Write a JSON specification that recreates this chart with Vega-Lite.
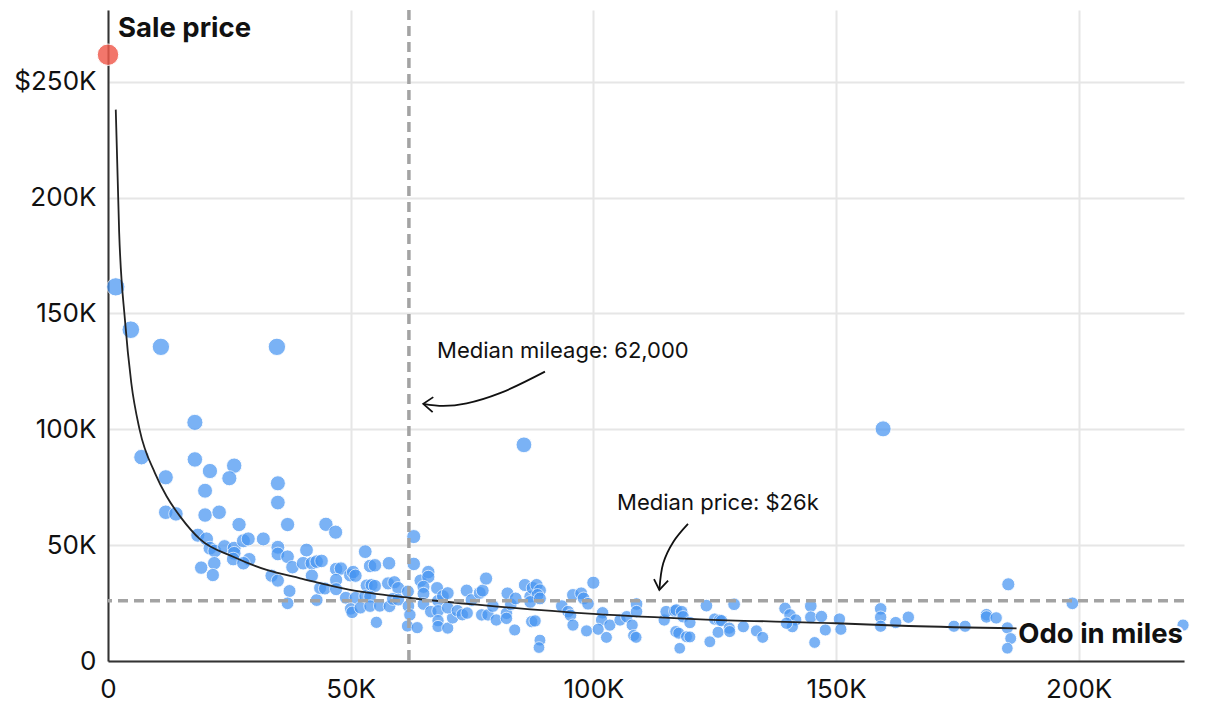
{
  "$schema": "https://vega.github.io/schema/vega-lite/v6.json",
  "width": 1076,
  "height": 651,
  "autosize": {"type": "none"},
  "padding": {"left": 108, "top": 10, "right": 36, "bottom": 59},
  "background": "white",
  "config": {"view": {"stroke": null}, "font": "Inter"},
  "datasets": {
    "cars": [
      {"odo": 0, "price": 261700},
      {"odo": 1600, "price": 161500},
      {"odo": 4700, "price": 143000},
      {"odo": 10900, "price": 135600},
      {"odo": 34800, "price": 135600},
      {"odo": 17900, "price": 103000},
      {"odo": 6900, "price": 88000},
      {"odo": 17900, "price": 87000},
      {"odo": 21000, "price": 82000},
      {"odo": 26000, "price": 84300},
      {"odo": 25000, "price": 78900},
      {"odo": 11900, "price": 79300},
      {"odo": 20000, "price": 73500},
      {"odo": 35000, "price": 76700},
      {"odo": 35000, "price": 68400},
      {"odo": 85700, "price": 93300},
      {"odo": 159700, "price": 100200},
      {"odo": 11900, "price": 64200},
      {"odo": 14000, "price": 63500},
      {"odo": 20000, "price": 63000},
      {"odo": 22900, "price": 64200},
      {"odo": 27000, "price": 58900},
      {"odo": 37000, "price": 58900},
      {"odo": 18500, "price": 54300},
      {"odo": 20300, "price": 52700},
      {"odo": 21000, "price": 48700},
      {"odo": 22000, "price": 47500},
      {"odo": 24000, "price": 49400},
      {"odo": 26000, "price": 48700},
      {"odo": 26000, "price": 46500},
      {"odo": 25800, "price": 44000},
      {"odo": 27900, "price": 51900},
      {"odo": 28900, "price": 52700},
      {"odo": 32000, "price": 52700},
      {"odo": 35000, "price": 49100},
      {"odo": 35000, "price": 46200},
      {"odo": 29100, "price": 43900},
      {"odo": 27900, "price": 42200},
      {"odo": 21900, "price": 42200},
      {"odo": 19200, "price": 40300},
      {"odo": 21600, "price": 37100},
      {"odo": 37000, "price": 45000},
      {"odo": 38000, "price": 40500},
      {"odo": 40900, "price": 47900},
      {"odo": 40200, "price": 42200},
      {"odo": 42000, "price": 42200},
      {"odo": 43000, "price": 42900},
      {"odo": 42000, "price": 36800},
      {"odo": 33700, "price": 36800},
      {"odo": 35000, "price": 34700},
      {"odo": 37400, "price": 30200},
      {"odo": 37000, "price": 24900},
      {"odo": 43000, "price": 26300},
      {"odo": 44900, "price": 59000},
      {"odo": 46900, "price": 55600},
      {"odo": 44000, "price": 43200},
      {"odo": 43700, "price": 31500},
      {"odo": 44700, "price": 31300},
      {"odo": 47000, "price": 39700},
      {"odo": 48000, "price": 39900},
      {"odo": 47000, "price": 35000},
      {"odo": 49900, "price": 37000},
      {"odo": 50500, "price": 38400},
      {"odo": 51000, "price": 36800},
      {"odo": 47000, "price": 31000},
      {"odo": 49000, "price": 27300},
      {"odo": 51000, "price": 27300},
      {"odo": 50000, "price": 22500},
      {"odo": 50300, "price": 21000},
      {"odo": 52000, "price": 23000},
      {"odo": 53000, "price": 47200},
      {"odo": 54000, "price": 41000},
      {"odo": 55000, "price": 41300},
      {"odo": 53300, "price": 32600},
      {"odo": 54300, "price": 32800},
      {"odo": 55000, "price": 32400},
      {"odo": 53000, "price": 28000},
      {"odo": 54000, "price": 27800},
      {"odo": 54000, "price": 23700},
      {"odo": 56000, "price": 23800},
      {"odo": 58000, "price": 23600},
      {"odo": 55300, "price": 16700},
      {"odo": 57900, "price": 42200},
      {"odo": 57700, "price": 33500},
      {"odo": 59000, "price": 34000},
      {"odo": 59800, "price": 31500},
      {"odo": 58700, "price": 26800},
      {"odo": 59800, "price": 26500},
      {"odo": 61800, "price": 30000},
      {"odo": 61900, "price": 23700},
      {"odo": 62200, "price": 19900},
      {"odo": 61700, "price": 15100},
      {"odo": 63700, "price": 14400},
      {"odo": 63000, "price": 53700},
      {"odo": 63000, "price": 41900},
      {"odo": 64400, "price": 34700},
      {"odo": 66000, "price": 38400},
      {"odo": 66000, "price": 36300},
      {"odo": 65000, "price": 32000},
      {"odo": 65000, "price": 29000},
      {"odo": 65000, "price": 24600},
      {"odo": 66500, "price": 21300},
      {"odo": 67800, "price": 31500},
      {"odo": 68000, "price": 26000},
      {"odo": 68000, "price": 21600},
      {"odo": 68000, "price": 17400},
      {"odo": 68000, "price": 14900},
      {"odo": 70000, "price": 14200},
      {"odo": 71000, "price": 18600},
      {"odo": 69000, "price": 28000},
      {"odo": 70000, "price": 29300},
      {"odo": 70000, "price": 23000},
      {"odo": 72000, "price": 21700},
      {"odo": 73000, "price": 20000},
      {"odo": 74000, "price": 20700},
      {"odo": 73900, "price": 30400},
      {"odo": 74900, "price": 26300},
      {"odo": 76600, "price": 29400},
      {"odo": 77200, "price": 30400},
      {"odo": 77900, "price": 35600},
      {"odo": 77000, "price": 19900},
      {"odo": 78300, "price": 19900},
      {"odo": 80000, "price": 17700},
      {"odo": 79300, "price": 23700},
      {"odo": 82300, "price": 29200},
      {"odo": 82100, "price": 20600},
      {"odo": 82100, "price": 18400},
      {"odo": 83000, "price": 24500},
      {"odo": 83800, "price": 13400},
      {"odo": 84000, "price": 27000},
      {"odo": 85900, "price": 32800},
      {"odo": 87000, "price": 27800},
      {"odo": 87500, "price": 31500},
      {"odo": 88300, "price": 32800},
      {"odo": 89000, "price": 30500},
      {"odo": 88500, "price": 28500},
      {"odo": 87000, "price": 25500},
      {"odo": 89000, "price": 27000},
      {"odo": 87300, "price": 17000},
      {"odo": 88000, "price": 17300},
      {"odo": 89000, "price": 9000},
      {"odo": 88800, "price": 5800},
      {"odo": 93500, "price": 23700},
      {"odo": 94800, "price": 21300},
      {"odo": 95300, "price": 19700},
      {"odo": 95800, "price": 15500},
      {"odo": 95800, "price": 28500},
      {"odo": 97500, "price": 29200},
      {"odo": 98000, "price": 27000},
      {"odo": 98900, "price": 24700},
      {"odo": 98600, "price": 13000},
      {"odo": 100000, "price": 33800},
      {"odo": 101900, "price": 20800},
      {"odo": 101700, "price": 17700},
      {"odo": 101000, "price": 13700},
      {"odo": 102700, "price": 10200},
      {"odo": 103400, "price": 15500},
      {"odo": 105500, "price": 17700},
      {"odo": 106900, "price": 19100},
      {"odo": 108900, "price": 24600},
      {"odo": 108900, "price": 21300},
      {"odo": 108000, "price": 15500},
      {"odo": 108300, "price": 11000},
      {"odo": 108800, "price": 10200},
      {"odo": 114600, "price": 17700},
      {"odo": 115000, "price": 21300},
      {"odo": 116800, "price": 21600},
      {"odo": 117100, "price": 22000},
      {"odo": 118200, "price": 21300},
      {"odo": 118500, "price": 19100},
      {"odo": 119900, "price": 16600},
      {"odo": 117000, "price": 12700},
      {"odo": 117600, "price": 12000},
      {"odo": 119200, "price": 10500},
      {"odo": 117800, "price": 5500},
      {"odo": 119900, "price": 10400},
      {"odo": 123300, "price": 23900},
      {"odo": 124000, "price": 8300},
      {"odo": 125000, "price": 18100},
      {"odo": 126000, "price": 17600},
      {"odo": 126400, "price": 17400},
      {"odo": 125700, "price": 12400},
      {"odo": 128000, "price": 14200},
      {"odo": 128100, "price": 12700},
      {"odo": 129000, "price": 24500},
      {"odo": 130900, "price": 14800},
      {"odo": 133600, "price": 13000},
      {"odo": 134900, "price": 10200},
      {"odo": 139500, "price": 22700},
      {"odo": 140500, "price": 19900},
      {"odo": 141700, "price": 17700},
      {"odo": 141000, "price": 14800},
      {"odo": 139800, "price": 16300},
      {"odo": 144800, "price": 23700},
      {"odo": 144800, "price": 18900},
      {"odo": 147000, "price": 19200},
      {"odo": 145600, "price": 8000},
      {"odo": 147800, "price": 13400},
      {"odo": 150700, "price": 18100},
      {"odo": 151000, "price": 13700},
      {"odo": 159200, "price": 22500},
      {"odo": 159200, "price": 18900},
      {"odo": 159200, "price": 15000},
      {"odo": 162300, "price": 16600},
      {"odo": 164900, "price": 18900},
      {"odo": 174300, "price": 15000},
      {"odo": 176600, "price": 15000},
      {"odo": 181000, "price": 20000},
      {"odo": 181000, "price": 19000},
      {"odo": 183000, "price": 18600},
      {"odo": 185500, "price": 33100},
      {"odo": 185300, "price": 14300},
      {"odo": 186000, "price": 9700},
      {"odo": 185300, "price": 5500},
      {"odo": 198700, "price": 24900},
      {"odo": 221500, "price": 15500}
    ],
    "fit": [
      {"odo": 1600, "price": 238000},
      {"odo": 2300, "price": 185000},
      {"odo": 3500, "price": 147000},
      {"odo": 4800, "price": 120000},
      {"odo": 6500, "price": 100000},
      {"odo": 9700, "price": 81000},
      {"odo": 12100, "price": 71000},
      {"odo": 15000, "price": 62000},
      {"odo": 19000, "price": 52500},
      {"odo": 25800, "price": 45000},
      {"odo": 32700, "price": 39300},
      {"odo": 39600, "price": 35700},
      {"odo": 49900, "price": 30700},
      {"odo": 61900, "price": 27300},
      {"odo": 76600, "price": 24200},
      {"odo": 100000, "price": 20300},
      {"odo": 122000, "price": 18000},
      {"odo": 150000, "price": 16300},
      {"odo": 165000, "price": 15100},
      {"odo": 187200, "price": 14100}
    ],
    "arrowCurves": [
      {"seg": "m", "ord": 1, "odo": 90030, "price": 124900},
      {"seg": "m", "ord": 2, "odo": 80760, "price": 115600},
      {"seg": "m", "ord": 3, "odo": 73900, "price": 111200},
      {"seg": "m", "ord": 4, "odo": 69080, "price": 110100},
      {"seg": "m", "ord": 5, "odo": 64960, "price": 111000},
      {"seg": "p", "ord": 1, "odo": 119500, "price": 59200},
      {"seg": "p", "ord": 2, "odo": 116500, "price": 51500},
      {"seg": "p", "ord": 3, "odo": 114400, "price": 42200},
      {"seg": "p", "ord": 4, "odo": 113600, "price": 30700}
    ],
    "arrowHeads": [
      {"seg": "m", "ord": 1, "odo": 67020, "price": 113900},
      {"seg": "m", "ord": 2, "odo": 64960, "price": 111000},
      {"seg": "m", "ord": 3, "odo": 66890, "price": 107400},
      {"seg": "p", "ord": 1, "odo": 112500, "price": 35300},
      {"seg": "p", "ord": 2, "odo": 113600, "price": 30700},
      {"seg": "p", "ord": 3, "odo": 115400, "price": 34700}
    ],
    "labels": [
      {"odo": 67800, "price": 130700, "text": "Median mileage: 62,000"},
      {"odo": 104900, "price": 65200, "text": "Median price: $26k"}
    ],
    "medians": [{"odo": 62000, "price": 26000}]
  },
  "layer": [
    {
      "data": {"name": "cars"},
      "transform": [{"filter": "datum.price < 250000"}],
      "mark": {"type": "point", "filled": true, "shape": "circle", "color": "#4795f2", "opacity": 0.72, "stroke": "white", "strokeWidth": 1, "strokeOpacity": 0.9},
      "encoding": {
        "x": {"field": "odo", "type": "quantitative", "title": null, "scale": {"domain": [0, 221700], "nice": false, "zero": false},
          "axis": {"title": null, "values": [0, 50000, 100000, 150000, 200000], "labelExpr": "datum.value == 0 ? '0' : (datum.value / 1000) + 'K'",
            "domainColor": "#333", "domainWidth": 2, "ticks": false, "grid": true, "gridColor": "#e6e6e6", "gridWidth": 2,
            "labelFont": "Inter", "labelFontSize": 26, "labelColor": "#111", "labelPadding": 15, "labelFlush": false}},
        "y": {"field": "price", "type": "quantitative", "title": null, "scale": {"domain": [0, 281000], "nice": false, "zero": false},
          "axis": {"title": null, "values": [0, 50000, 100000, 150000, 200000, 250000], "labelExpr": "datum.value == 250000 ? '$250K' : datum.value == 0 ? '0' : (datum.value / 1000) + 'K'",
            "domainColor": "#333", "domainWidth": 2, "ticks": false, "grid": true, "gridColor": "#e6e6e6", "gridWidth": 2,
            "labelFont": "Inter", "labelFontSize": 26, "labelColor": "#111", "labelPadding": 12, "labelFlush": false}},
        "size": {"field": "price", "type": "quantitative", "scale": {"domain": [0, 261700], "range": [130, 460], "zero": false}, "legend": null}
      }
    },
    {
      "data": {"name": "cars"},
      "transform": [{"filter": "datum.price >= 250000"}],
      "mark": {"type": "point", "filled": true, "shape": "circle", "color": "#f0594b", "opacity": 0.82, "stroke": "white", "strokeWidth": 1},
      "encoding": {
        "x": {"field": "odo", "type": "quantitative", "title": null},
        "y": {"field": "price", "type": "quantitative", "title": null},
        "size": {"field": "price", "type": "quantitative", "legend": null}
      }
    },
    {
      "data": {"name": "fit"},
      "mark": {"type": "line", "color": "#222", "strokeWidth": 1.8, "interpolate": "monotone"},
      "encoding": {
        "x": {"field": "odo", "type": "quantitative", "title": null},
        "y": {"field": "price", "type": "quantitative", "title": null}
      }
    },
    {
      "data": {"name": "medians"},
      "mark": {"type": "rule", "color": "#a3a3a3", "strokeWidth": 3.5, "strokeDash": [10, 6]},
      "encoding": {"x": {"field": "odo", "type": "quantitative", "title": null}}
    },
    {
      "data": {"name": "medians"},
      "mark": {"type": "rule", "color": "#a3a3a3", "strokeWidth": 3.5, "strokeDash": [10, 6]},
      "encoding": {"y": {"field": "price", "type": "quantitative", "title": null}}
    },
    {
      "data": {"name": "arrowCurves"},
      "mark": {"type": "line", "color": "#111", "strokeWidth": 1.8, "interpolate": "catmull-rom"},
      "encoding": {
        "x": {"field": "odo", "type": "quantitative", "title": null},
        "y": {"field": "price", "type": "quantitative", "title": null},
        "detail": {"field": "seg"},
        "order": {"field": "ord"}
      }
    },
    {
      "data": {"name": "arrowHeads"},
      "mark": {"type": "line", "color": "#111", "strokeWidth": 1.8},
      "encoding": {
        "x": {"field": "odo", "type": "quantitative", "title": null},
        "y": {"field": "price", "type": "quantitative", "title": null},
        "detail": {"field": "seg"},
        "order": {"field": "ord"}
      }
    },
    {
      "data": {"name": "labels"},
      "mark": {"type": "text", "align": "left", "baseline": "alphabetic", "font": "Inter", "fontSize": 22, "color": "#111"},
      "encoding": {
        "x": {"field": "odo", "type": "quantitative", "title": null},
        "y": {"field": "price", "type": "quantitative", "title": null},
        "text": {"field": "text"}
      }
    },
    {
      "data": {"values": [{"odo": 221500, "price": 7800, "text": "Odo in miles"}]},
      "mark": {"type": "text", "align": "right", "baseline": "alphabetic", "font": "Inter", "fontSize": 27.5, "fontWeight": "bold", "stroke": "white", "strokeWidth": 4, "strokeJoin": "round"},
      "encoding": {
        "x": {"field": "odo", "type": "quantitative", "title": null},
        "y": {"field": "price", "type": "quantitative", "title": null},
        "text": {"field": "text"}
      }
    },
    {
      "data": {"values": [{"odo": 221500, "price": 7800, "text": "Odo in miles"}]},
      "mark": {"type": "text", "align": "right", "baseline": "alphabetic", "font": "Inter", "fontSize": 27.5, "fontWeight": "bold", "color": "#111"},
      "encoding": {
        "x": {"field": "odo", "type": "quantitative", "title": null},
        "y": {"field": "price", "type": "quantitative", "title": null},
        "text": {"field": "text"}
      }
    },
    {
      "data": {"values": [{"odo": 2060, "price": 269400, "text": "Sale price"}]},
      "mark": {"type": "text", "align": "left", "baseline": "alphabetic", "font": "Inter", "fontSize": 27.5, "fontWeight": "bold", "color": "#111"},
      "encoding": {
        "x": {"field": "odo", "type": "quantitative", "title": null},
        "y": {"field": "price", "type": "quantitative", "title": null},
        "text": {"field": "text"}
      }
    }
  ]
}
